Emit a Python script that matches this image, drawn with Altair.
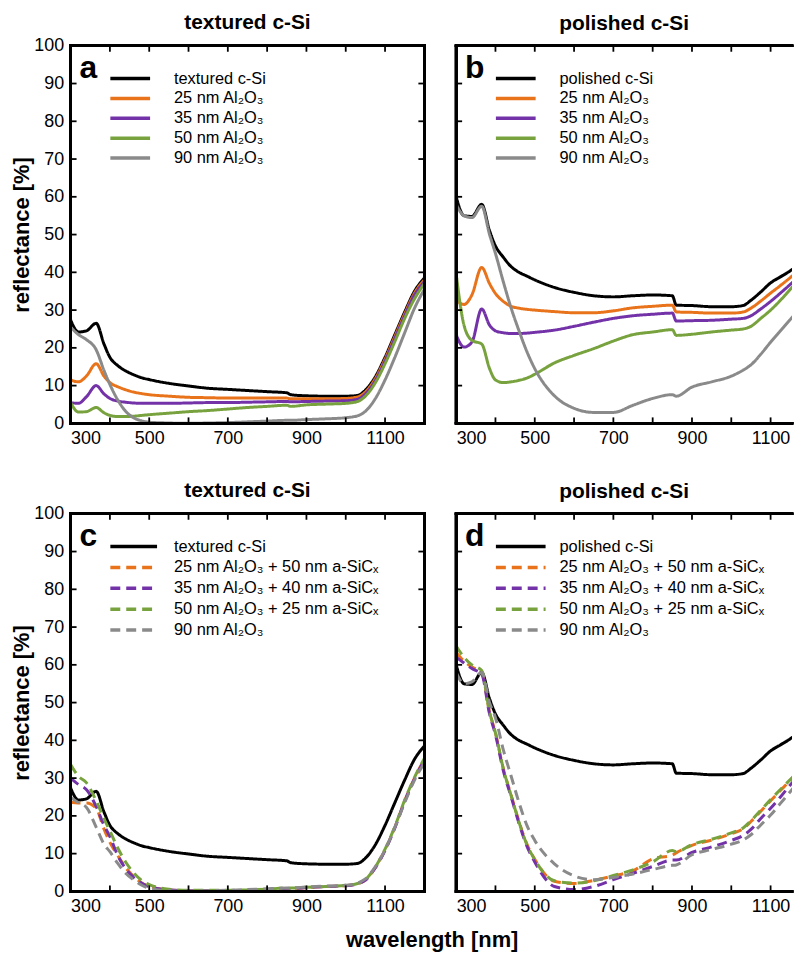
import altair as alt
import pandas as pd

FONT = "Liberation Sans"

# wavelength grid [nm]
WL = [300, 320, 340, 365, 385, 400, 420, 440, 460, 480, 500, 550, 600, 650, 700,
      750, 800, 850, 860, 900, 950, 1000, 1030, 1050, 1075, 1100, 1125, 1150, 1175, 1200]

# ---- panel a: textured c-Si ----
TEX_BARE = [27.4, 24.2, 24.5, 26.5, 21.0, 17.5, 15.3, 13.9, 12.9, 12.1, 11.6, 10.6, 9.9, 9.3, 9.0,
            8.7, 8.4, 8.1, 7.6, 7.3, 7.2, 7.2, 7.4, 8.8, 12.3, 17.5, 23.5, 29.5, 35.0, 38.5]
TEX_25 = [11.5, 11.0, 12.5, 15.8, 12.5, 10.8, 9.7, 8.9, 8.3, 7.9, 7.6, 7.2, 6.9, 6.8, 6.7,
          6.7, 6.7, 6.7, 6.5, 6.5, 6.5, 6.6, 7.0, 8.3, 11.8, 17.0, 23.0, 29.0, 34.5, 38.0]
TEX_35 = [5.5, 5.3, 7.0, 10.0, 7.8, 6.6, 5.9, 5.6, 5.4, 5.3, 5.3, 5.3, 5.4, 5.5, 5.5,
          5.6, 5.7, 5.8, 5.7, 5.8, 5.9, 6.0, 6.4, 7.8, 11.3, 16.5, 22.5, 28.5, 34.0, 37.5]
TEX_50 = [5.5, 3.0, 3.1, 4.2, 2.8, 2.1, 1.8, 1.8, 1.9, 2.1, 2.3, 2.7, 3.1, 3.4, 3.8,
          4.2, 4.5, 4.8, 4.5, 4.9, 5.1, 5.3, 5.8, 7.2, 10.7, 15.8, 21.7, 27.8, 33.0, 37.0]
TEX_90 = [25.5, 23.5, 22.2, 19.5, 14.0, 10.3, 6.2, 3.2, 1.5, 0.7, 0.3, 0.1, 0.0, 0.1, 0.2,
          0.4, 0.6, 0.8, 0.8, 1.0, 1.2, 1.5, 2.0, 3.2, 6.5, 11.5, 17.5, 24.0, 30.5, 35.5]

# ---- panel b: polished c-Si ----
POL_BARE = [60.0, 55.0, 54.8, 58.0, 51.0, 47.0, 44.0, 41.5, 40.0, 39.0, 38.0, 36.0, 34.7, 33.8, 33.5,
            33.8, 34.0, 33.8, 31.3, 31.2, 30.9, 30.9, 31.2, 32.6, 34.8, 37.2, 38.8, 40.4, 42.5, 45.0]
POL_25 = [32.6, 31.5, 34.0, 41.3, 37.0, 34.4, 32.3, 31.0, 30.5, 30.2, 30.0, 29.6, 29.3, 29.3, 29.8,
          30.6, 31.0, 31.3, 29.5, 29.4, 29.2, 29.2, 29.5, 30.5, 32.4, 34.5, 36.5, 38.6, 40.9, 43.5]
POL_35 = [23.5, 20.2, 21.5, 30.3, 26.0, 24.5, 24.0, 23.8, 23.8, 23.9, 24.1, 24.7, 25.7, 26.8, 27.8,
          28.5, 28.9, 29.2, 27.1, 27.2, 27.3, 27.6, 27.8, 28.5, 30.3, 32.3, 34.5, 36.8, 39.2, 42.0]
POL_50 = [39.6, 26.0, 22.0, 21.0, 14.5, 11.5, 10.8, 11.0, 11.4, 12.0, 13.0, 16.0, 18.0, 19.8, 21.8,
          23.5, 24.2, 24.8, 23.3, 23.6, 24.2, 24.7, 25.0, 25.7, 27.8, 30.0, 32.6, 35.5, 38.5, 41.5]
POL_90 = [58.0, 55.0, 54.5, 57.5, 50.0, 45.0, 37.5, 30.5, 24.5, 19.0, 14.5, 7.3, 4.0, 2.9, 2.9,
          4.8, 6.6, 7.6, 7.2, 9.6, 11.0, 12.5, 14.1, 15.5, 18.3, 21.5, 24.5, 27.5, 30.3, 33.0]

# ---- panel c: textured c-Si with stacks ----
TEXS_25 = [23.6, 23.4, 23.4, 22.0, 16.5, 13.0, 9.5, 6.3, 4.0, 2.3, 1.4, 0.4, 0.2, 0.2, 0.2,
           0.3, 0.5, 0.8, 0.8, 1.0, 1.3, 1.5, 2.0, 3.0, 6.3, 11.0, 17.0, 24.0, 30.0, 35.0]
TEXS_35 = [30.0, 28.3, 27.0, 22.5, 17.5, 14.5, 9.5, 6.0, 3.7, 2.2, 1.2, 0.4, 0.2, 0.2, 0.2,
           0.3, 0.5, 0.8, 0.8, 1.0, 1.3, 1.5, 2.0, 3.0, 6.2, 10.8, 16.8, 23.8, 29.8, 34.8]
TEXS_50 = [33.6, 30.5, 28.8, 24.0, 19.3, 16.0, 11.5, 7.8, 5.0, 3.0, 1.8, 0.6, 0.3, 0.3, 0.3,
           0.4, 0.6, 0.9, 0.9, 1.1, 1.3, 1.6, 2.1, 3.1, 6.4, 11.2, 17.2, 24.2, 30.2, 35.2]
TEXS_90 = [24.9, 23.5, 22.3, 17.0, 12.5, 10.5, 7.4, 4.8, 3.1, 1.7, 0.8, 0.2, 0.1, 0.2, 0.3,
           0.5, 0.7, 0.9, 0.9, 1.2, 1.4, 1.6, 2.2, 3.3, 6.5, 11.0, 17.0, 23.5, 29.5, 34.0]

# ---- panel d: polished c-Si with stacks ----
POLS_25 = [63.3, 61.0, 59.4, 58.0, 47.5, 42.0, 32.5, 25.5, 18.5, 12.5, 8.5, 2.7, 2.1, 2.9, 4.1,
           5.5, 8.6, 9.6, 10.2, 12.2, 13.6, 15.3, 16.6, 18.5, 21.2, 24.0, 26.7, 29.4, 32.2, 35.0]
POLS_35 = [62.0, 60.5, 59.0, 57.5, 47.0, 41.5, 32.0, 25.0, 18.0, 12.0, 7.8, 1.3, 0.5, 1.3, 3.1,
           4.8, 6.6, 8.3, 8.3, 10.3, 11.8, 13.5, 14.8, 16.4, 19.3, 22.0, 25.0, 28.2, 31.0, 34.0]
POLS_50 = [65.0, 62.0, 60.0, 58.5, 47.5, 42.0, 32.5, 25.3, 18.3, 12.4, 8.4, 2.8, 2.2, 2.8, 4.2,
           5.7, 7.8, 10.8, 10.5, 12.4, 13.8, 15.5, 16.8, 18.7, 21.5, 24.3, 27.0, 29.6, 32.4, 35.0]
POLS_90 = [58.0, 55.0, 55.5, 58.0, 50.0, 46.0, 37.5, 30.5, 23.5, 17.5, 13.5, 7.3, 4.1, 3.1, 3.7,
           4.6, 5.8, 6.9, 7.0, 9.7, 11.1, 12.5, 13.6, 15.0, 17.6, 20.2, 23.3, 26.4, 29.6, 32.5]

NAMES_A = ["textured c-Si", "25 nm Al₂O₃", "35 nm Al₂O₃", "50 nm Al₂O₃", "90 nm Al₂O₃"]
NAMES_B = ["polished c-Si", "25 nm Al₂O₃", "35 nm Al₂O₃", "50 nm Al₂O₃", "90 nm Al₂O₃"]
NAMES_C = ["textured c-Si", "25 nm Al₂O₃ + 50 nm a-SiCₓ", "35 nm Al₂O₃ + 40 nm a-SiCₓ",
           "50 nm Al₂O₃ + 25 nm a-SiCₓ", "90 nm Al₂O₃"]
NAMES_D = ["polished c-Si", "25 nm Al₂O₃ + 50 nm a-SiCₓ", "35 nm Al₂O₃ + 40 nm a-SiCₓ",
           "50 nm Al₂O₃ + 25 nm a-SiCₓ", "90 nm Al₂O₃"]

COLORS = ["#000000", "#E8731A", "#7332A8", "#77A23D", "#8A8A8A"]
X_LABELS = [300, 500, 700, 900, 1100]
X_MINOR = [400, 500, 600, 700, 800, 900, 1000, 1100]
Y_LABELS = list(range(0, 101, 10))
Y_MINOR = list(range(10, 100, 10))

W, H = 356, 380          # left panels: 300-1200 nm
WR = 338                 # right panels are cut off at the page edge (same nm/px scale)
SYM = 16


def panel(letter, title, names, values, dashed, is_left, sym_half, label_gap, row_pad):
    width = W if is_left else WR
    xmax = 300 + width * 900.0 / W
    recs = []
    for n, vals in zip(names, values):
        for w, v in zip(WL, vals):
            recs.append({"wl": w, "R": v, "series": n})
    df = pd.DataFrame(recs)
    xs = alt.Scale(domain=[300, xmax], nice=False, zero=False)
    ys = alt.Scale(domain=[0, 100], nice=False, zero=False)
    dash_range = [[1, 0]] + ([[10, 6]] * 4 if dashed else [[1, 0]] * 4)
    k = sym_half / (SYM / 2.0)
    path = f"M{-k:.3f},0H{k:.3f}"
    leg = alt.Legend(orient="none", legendX=38 + sym_half - SYM / 2, legendY=23, title=None,
                     symbolType=path, symbolSize=SYM * SYM,
                     symbolStrokeWidth=3.5, labelFont=FONT, labelFontSize=16.5,
                     labelColor="black", labelOffset=(sym_half - SYM / 2) + label_gap,
                     rowPadding=row_pad, labelLimit=500, padding=0)
    yaxis = alt.Axis(values=Y_LABELS, ticks=False, domain=False, grid=False,
                     labels=is_left, labelFont=FONT, labelFontSize=18,
                     labelColor="black", labelPadding=7, labelFlush=False,
                     title="reflectance [%]" if is_left else None,
                     titleFont=FONT, titleFontSize=22, titleFontWeight="bold",
                     titleColor="black", titlePadding=0)
    xaxis = alt.Axis(values=X_LABELS, format="d", ticks=False, domain=False, grid=False,
                     labelFont=FONT, labelFontSize=18, labelColor="black",
                     labelPadding=6, labelFlush=True, title=None)
    lines = alt.Chart(df).mark_line(strokeWidth=3, clip=True, interpolate="monotone").encode(
        x=alt.X("wl:Q", scale=xs, axis=xaxis),
        y=alt.Y("R:Q", scale=ys, axis=yaxis),
        color=alt.Color("series:N", scale=alt.Scale(domain=names, range=COLORS), legend=leg),
        strokeDash=alt.StrokeDash("series:N", scale=alt.Scale(domain=names, range=dash_range), legend=leg),
    )
    xt = pd.DataFrame({"t": X_MINOR})
    yt = pd.DataFrame({"t": Y_MINOR})
    tick = dict(color="black", strokeWidth=1.8)
    layers = [lines]
    layers.append(alt.Chart(xt).mark_rule(**tick).encode(
        x=alt.X("t:Q", scale=xs, axis=xaxis), y=alt.value(H), y2=alt.value(H - 6)))
    layers.append(alt.Chart(xt).mark_rule(**tick).encode(
        x=alt.X("t:Q", scale=xs, axis=xaxis), y=alt.value(0), y2=alt.value(6)))
    layers.append(alt.Chart(yt).mark_rule(**tick).encode(
        y=alt.Y("t:Q", scale=ys, axis=yaxis), x=alt.value(0), x2=alt.value(6)))
    if is_left:
        layers.append(alt.Chart(yt).mark_rule(**tick).encode(
            y=alt.Y("t:Q", scale=ys, axis=yaxis), x=alt.value(width), x2=alt.value(width - 6)))
    # frame (the right-hand panels are cut at the page edge, so no right border there)
    frame = dict(color="black", strokeWidth=2.5, strokeCap="square")
    layers.append(alt.Chart(xt).mark_rule(**frame).encode(
        x=alt.value(0), x2=alt.value(width), y=alt.value(0)))
    layers.append(alt.Chart(xt).mark_rule(**frame).encode(
        x=alt.value(0), x2=alt.value(width), y=alt.value(H)))
    layers.append(alt.Chart(xt).mark_rule(**frame).encode(
        x=alt.value(0), y=alt.value(0), y2=alt.value(H)))
    if is_left:
        layers.append(alt.Chart(xt).mark_rule(**frame).encode(
            x=alt.value(width), y=alt.value(0), y2=alt.value(H)))
    layers.append(alt.Chart(pd.DataFrame({"t": [letter]})).mark_text(
        font=FONT, fontSize=32, fontWeight="bold", align="left",
        baseline="alphabetic", color="black").encode(
        text="t:N", x=alt.value(9), y=alt.value(32)))
    # left panels' "100" label pokes above the frame, so their title sits higher
    return alt.layer(*layers).properties(
        width=width, height=H,
        title=alt.TitleParams(title, font=FONT, fontSize=21, fontWeight="bold",
                              color="black", anchor="middle",
                              offset=4 if is_left else 10))


pa = panel("a", "textured c-Si", NAMES_A, [TEX_BARE, TEX_25, TEX_35, TEX_50, TEX_90], False, True, 20, 22, 1)
pb = panel("b", "polished c-Si", NAMES_B, [POL_BARE, POL_25, POL_35, POL_50, POL_90], False, False, 20, 22, 1)
pc = panel("c", "textured c-Si", NAMES_C, [TEX_BARE, TEXS_25, TEXS_35, TEXS_50, TEXS_90], True, True, 23.5, 15, 2)
pd_ = panel("d", "polished c-Si", NAMES_D, [POL_BARE, POLS_25, POLS_35, POLS_50, POLS_90], True, False, 25, 12, 2)

res = dict(color="independent", strokeDash="independent")
row1 = alt.hconcat(pa, pb, spacing=28).resolve_scale(**res).resolve_legend(**res)
row2 = alt.hconcat(pc, pd_, spacing=28).resolve_scale(**res).resolve_legend(**res)

chart = alt.vconcat(row1, row2, spacing=33).resolve_scale(**res).resolve_legend(**res).properties(
    title=alt.TitleParams("wavelength [nm]", orient="bottom", anchor="middle",
                          font=FONT, fontSize=22, fontWeight="bold", color="black",
                          offset=15, dx=30),
    padding={"left": 2, "top": 1, "right": 0, "bottom": 0},
).configure_view(stroke=None)

chart.save("out.html", embed_options={"renderer": "svg", "actions": False})
